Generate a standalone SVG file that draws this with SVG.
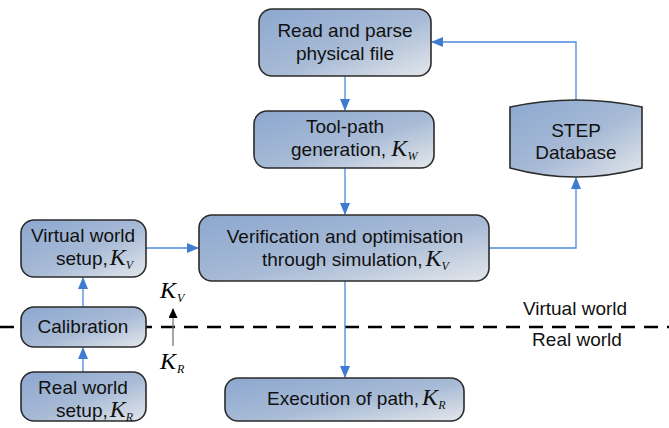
<svg xmlns="http://www.w3.org/2000/svg" width="669" height="428" viewBox="0 0 669 428">
  <defs>
    <linearGradient id="boxFill" x1="0" y1="0" x2="1" y2="1">
      <stop offset="0" stop-color="#8ca7cf"/>
      <stop offset="0.55" stop-color="#a8bbd6"/>
      <stop offset="1" stop-color="#e4e7eb"/>
    </linearGradient>
    <marker id="arrowBlue" markerUnits="userSpaceOnUse" markerWidth="12" markerHeight="10" refX="11" refY="5" orient="auto">
      <path d="M0,0 L12,5 L0,10 Z" fill="#3f7bd0"/>
    </marker>
    <marker id="arrowBlack" markerUnits="userSpaceOnUse" markerWidth="10" markerHeight="9" refX="9" refY="4.5" orient="auto">
      <path d="M0,0 L10,4.5 L0,9 Z" fill="#000"/>
    </marker>
  </defs>
  <style>
    .box { fill: url(#boxFill); stroke: #2b2b2b; stroke-width: 1.6; }
    .lbl { font-family: "Liberation Sans", Arial, sans-serif; font-size: 19px; fill: #111; }
    .k { font-family: "Liberation Serif", "Times New Roman", serif; font-style: italic; font-size: 24px; }
    .sub { font-family: "Liberation Serif", "Times New Roman", serif; font-style: italic; font-size: 12px; }
    .conn { fill: none; stroke: #4a8ad8; stroke-width: 1.3; }
  </style>

  <rect width="669" height="428" fill="#fff"/>

  <!-- boundary between virtual and real world -->
  <line x1="0" y1="327" x2="669" y2="327" stroke="#000" stroke-width="2.6" stroke-dasharray="14 9"/>
  <text class="lbl" x="575" y="315" text-anchor="middle">Virtual world</text>
  <text class="lbl" x="577" y="346" text-anchor="middle">Real world</text>

  <!-- connectors -->
  <g id="connectors">
    <path class="conn" d="M345,76 V110" marker-end="url(#arrowBlue)"/>
    <path class="conn" d="M345,168 V214" marker-end="url(#arrowBlue)"/>
    <path class="conn" d="M146,248 H198" marker-end="url(#arrowBlue)"/>
    <path class="conn" d="M83,307 V278" marker-end="url(#arrowBlue)"/>
    <path class="conn" d="M83,372 V348" marker-end="url(#arrowBlue)"/>
    <path class="conn" d="M489,248 H576 V178" marker-end="url(#arrowBlue)"/>
    <path class="conn" d="M576,101 V42 H432" marker-end="url(#arrowBlue)"/>
    <path class="conn" d="M345,281 V377" marker-end="url(#arrowBlue)"/>
    <path d="M173,346 V309" stroke="#777" stroke-width="1.3" fill="none" marker-end="url(#arrowBlack)"/>
  </g>

  <!-- K labels beside the boundary -->
  <g id="k-transfer">
    <text class="k" x="160" y="298">K<tspan class="sub" dx="1" dy="4">V</tspan></text>
    <text class="k" x="160" y="369">K<tspan class="sub" dx="1" dy="4">R</tspan></text>
  </g>

  <g id="read-parse">
    <rect class="box" x="259" y="9" width="172" height="67" rx="13"/>
    <text class="lbl" x="345" y="37" text-anchor="middle">Read and parse</text>
    <text class="lbl" x="345" y="60" text-anchor="middle">physical file</text>
  </g>

  <g id="tool-path">
    <rect class="box" x="254" y="111" width="180" height="57" rx="13"/>
    <text class="lbl" x="345" y="133" text-anchor="middle">Tool-path</text>
    <text class="lbl" x="291" y="156">generation, <tspan class="k">K</tspan><tspan class="sub" dy="4">W</tspan></text>
  </g>

  <g id="verification">
    <rect class="box" x="199" y="215" width="290" height="66" rx="13"/>
    <text class="lbl" x="345" y="243" text-anchor="middle">Verification and optimisation</text>
    <text class="lbl" x="262" y="266">through simulation,<tspan class="k" dx="3">K</tspan><tspan class="sub" dy="4">V</tspan></text>
  </g>

  <g id="step-database">
    <path class="box" d="M510,107 Q576,93 642,107 L642,168 Q576,186 510,168 Z"/>
    <text class="lbl" x="576" y="137" text-anchor="middle">STEP</text>
    <text class="lbl" x="576" y="159" text-anchor="middle">Database</text>
  </g>

  <g id="virtual-setup">
    <rect class="box" x="21" y="220" width="125" height="57" rx="13"/>
    <text class="lbl" x="83" y="242" text-anchor="middle">Virtual world</text>
    <text class="lbl" x="56" y="265">setup,<tspan class="k" dx="2">K</tspan><tspan class="sub" dy="4">V</tspan></text>
  </g>

  <g id="calibration">
    <rect class="box" x="21" y="307" width="125" height="40" rx="13"/>
    <text class="lbl" x="83" y="333" text-anchor="middle">Calibration</text>
  </g>

  <g id="real-setup">
    <rect class="box" x="21" y="372" width="125" height="49" rx="13"/>
    <text class="lbl" x="83" y="394" text-anchor="middle">Real world</text>
    <text class="lbl" x="56" y="417">setup,<tspan class="k" dx="2">K</tspan><tspan class="sub" dy="4">R</tspan></text>
  </g>

  <g id="execution">
    <rect class="box" x="225" y="378" width="239" height="43" rx="13"/>
    <text class="lbl" x="267" y="405">Execution of path,<tspan class="k" dx="3">K</tspan><tspan class="sub" dy="4">R</tspan></text>
  </g>
</svg>
